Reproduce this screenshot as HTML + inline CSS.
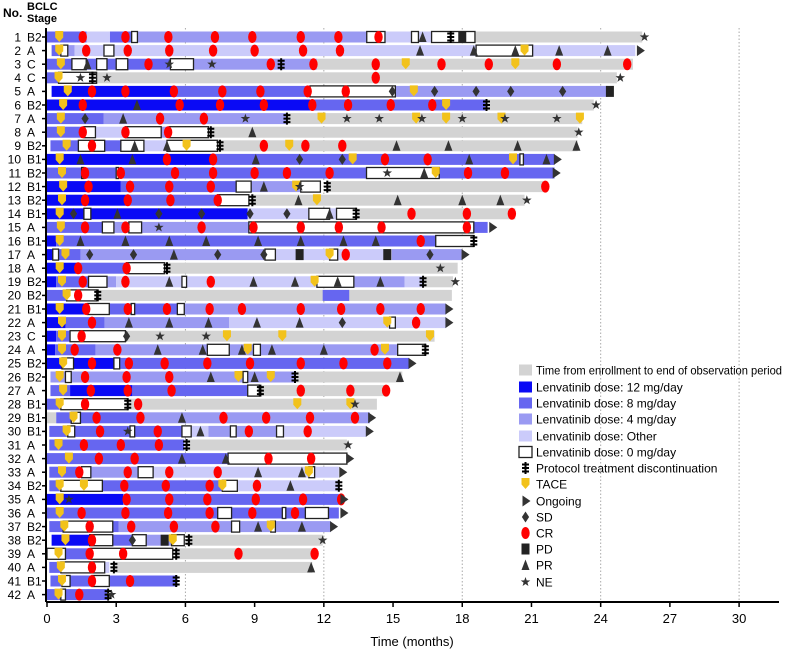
<!DOCTYPE html>
<html><head><meta charset="utf-8">
<style>
html,body{margin:0;padding:0;background:#fff;}
svg{display:block;font-family:"Liberation Sans",Arial,sans-serif;}
</style></head>
<body>
<svg id="chart" width="786" height="651" viewBox="0 0 786 651" xmlns="http://www.w3.org/2000/svg">
<text x="3" y="17" font-size="12" font-weight="bold">No.</text>
<text x="27" y="10" font-size="11" font-weight="bold">BCLC</text>
<text x="27" y="22" font-size="11" font-weight="bold">Stage</text>
<text x="412" y="646" font-size="13" text-anchor="middle">Time (months)</text>
</svg>
<script>
const stages=["B2","A","C","C","A","B2","A","A","B2","B1","B2","B1","B2","B1","A","B1","A","A","B2","B2","B1","A","C","A","B2","B2","A","B1","B1","B1","A","A","A","B2","A","A","B2","B2","A","A","B1","A"];
const xTicks=[0,3,6,9,12,15,18,21,24,27,30];
const gridMonths=[6,12,18,24,30];
const segs=[
[[0,1.72,'b'],[1.72,2.73,'d'],[2.73,3.67,'b'],[3.67,14.65,'c'],[14.65,16.67,'d'],[18.55,25.8,'g'],[3.67,3.92,'w'],[13.86,14.65,'w'],[15.8,16.1,'w'],[16.67,18.55,'w']],
[[0.2,0.6,'b'],[0.9,1.2,'c'],[1.2,25.5,'d'],[0.6,0.9,'w'],[2.47,2.9,'w'],[18.6,21.05,'w']],
[[0,5.35,'b'],[5.35,11.7,'c'],[11.7,25.4,'g'],[1.08,1.7,'w'],[2.15,2.6,'w'],[3.0,3.5,'w'],[5.35,6.35,'w']],
[[0,0.5,'b'],[2.15,24.7,'g'],[0.5,2.15,'w']],
[[0.2,5.5,'a'],[5.5,11.4,'b'],[15.1,24.3,'c'],[11.4,15.1,'w']],
[[0,11.4,'a'],[11.4,19.0,'b'],[19.0,23.7,'g']],
[[0,2.45,'b'],[2.45,10.4,'c'],[10.4,23.2,'g']],
[[0,1.6,'b'],[2.1,3.4,'d'],[4.95,5.3,'c'],[7.1,23.0,'g'],[1.6,2.1,'w'],[3.4,4.95,'w'],[5.3,7.0,'w']],
[[0.15,1.36,'b'],[2.5,3.2,'b'],[4.2,5.2,'d'],[7.5,23.0,'g'],[1.36,2.5,'w'],[3.2,4.2,'w'],[5.2,7.4,'w']],
[[0,7.2,'a'],[7.2,22.0,'b'],[20.5,20.65,'w']],
[[0,22.0,'b'],[1.5,1.6,'w'],[3.0,3.1,'w'],[13.85,17.0,'w']],
[[0,3.2,'a'],[3.2,8.2,'b'],[8.85,11.0,'c'],[12.2,21.5,'g'],[8.2,8.85,'w'],[11.0,11.85,'w']],
[[0,3.5,'a'],[3.5,7.4,'b'],[8.9,20.7,'g'],[7.4,8.75,'w']],
[[0,8.7,'a'],[8.7,13.4,'d'],[13.4,20.3,'g'],[1.6,1.9,'w'],[11.35,12.25,'w'],[12.55,13.4,'w']],
[[0,2.9,'b'],[2.9,8.75,'c'],[18.5,19.1,'b'],[2.4,2.9,'w'],[3.55,4.1,'w'],[8.75,18.5,'w']],
[[0,0.4,'a'],[0.4,16.85,'b'],[16.85,18.5,'w']],
[[0,0.25,'a'],[0.5,1.45,'b'],[1.45,9.45,'c'],[9.9,14.95,'d'],[14.95,17.97,'c'],[0.25,0.5,'w'],[9.45,9.9,'w'],[12.25,12.6,'w']],
[[0,1.3,'a'],[1.3,3.45,'b'],[5.2,17.8,'g'],[3.45,5.1,'w']],
[[0,0.4,'a'],[0.4,1.8,'b'],[2.6,3.0,'c'],[3.0,13.3,'d'],[13.3,15.5,'c'],[15.5,16.3,'d'],[16.3,17.6,'g'],[1.8,2.6,'w'],[5.85,6.05,'w'],[11.7,13.3,'w']],
[[0,0.85,'b'],[2.2,17.55,'g'],[11.95,13.1,'b'],[0.85,2.15,'w']],
[[0,1.75,'a'],[2.7,5.65,'b'],[5.95,17.3,'c'],[1.75,2.7,'w'],[3.65,3.8,'w'],[5.65,5.95,'w']],
[[0,0.8,'a'],[0.8,2.5,'b'],[2.5,7.9,'c'],[7.9,17.3,'d'],[14.85,15.1,'w']],
[[0,0.4,'a'],[0.4,1.0,'b'],[3.4,16.8,'g'],[1.0,3.4,'w']],
[[0,0.35,'a'],[0.35,2.1,'b'],[2.1,16.4,'c'],[6.95,7.9,'w'],[8.95,9.25,'w'],[15.2,16.4,'w']],
[[0,2.9,'a'],[3.15,15.7,'b'],[0.65,1.15,'w'],[2.9,3.15,'w']],
[[0.15,10.8,'c'],[10.8,15.4,'g'],[0.8,1.05,'w'],[8.5,8.7,'w']],
[[0.15,1.0,'b'],[1.0,3.7,'a'],[3.7,8.7,'b'],[9.25,14.8,'g'],[8.7,9.2,'w']],
[[0,0.6,'b'],[3.5,14.3,'g'],[0.6,3.5,'w']],
[[0,0.4,'g'],[0.4,4.0,'b'],[4.0,14.0,'c'],[1.05,1.45,'w']],
[[0.1,5.85,'b'],[6.25,7.0,'d'],[7.0,10.25,'c'],[10.25,13.85,'d'],[0.9,1.2,'w'],[3.6,3.8,'w'],[5.85,6.25,'w'],[7.95,8.2,'w'],[9.95,10.25,'w']],
[[0.1,5.95,'b'],[6.05,13.0,'g']],
[[0,7.85,'b'],[7.85,13.0,'w']],
[[0.1,1.5,'b'],[1.9,3.95,'c'],[4.6,12.65,'d'],[1.5,1.9,'w'],[3.95,4.6,'w'],[11.35,11.6,'w']],
[[0.1,0.6,'b'],[2.4,7.6,'b'],[8.25,12.65,'d'],[0.6,2.4,'w'],[7.6,8.25,'w']],
[[0,3.3,'a'],[3.3,12.65,'b']],
[[0,12.65,'b'],[7.4,8.0,'w'],[10.2,10.35,'w'],[11.2,12.2,'w']],
[[0.1,0.7,'b'],[2.85,3.1,'b'],[3.1,12.3,'c'],[0.7,2.85,'w'],[8.0,8.35,'w'],[9.7,9.9,'w']],
[[0.2,1.85,'a'],[2.85,3.7,'b'],[4.3,5.4,'c'],[6.1,11.95,'g'],[1.85,2.85,'w'],[3.7,4.3,'w'],[5.4,5.95,'w']],
[[0.8,1.9,'b'],[5.6,11.6,'g'],[0,0.8,'w'],[1.9,5.45,'w']],
[[0.1,0.6,'b'],[2.5,2.7,'d'],[2.9,11.5,'g'],[0.6,2.5,'w']],
[[0.15,5.65,'b'],[0.65,1.0,'w'],[1.95,2.7,'w']],
[[0,2.6,'b'],[0.6,0.8,'w']]
];
const events=[
['T',.53,'C',1.55,'C',3.4,'C',5.26,'C',7.28,'C',8.9,'C',11.0,'C',12.63,'C',14.37,'P',16.28,'X',17.5,'D',18.0,'N',25.9],
['T',.53,'C',1.7,'C',3.5,'C',5.3,'C',7.2,'C',9.0,'C',11.1,'C',12.7,'P',16.17,'P',18.5,'P',20.3,'T',20.7,'P',22.2,'P',24.3,'O',25.7],
['T',.6,'P',1.75,'C',4.4,'N',5.3,'N',7.15,'C',9.7,'X',10.15,'C',11.55,'C',14.25,'T',15.55,'C',17.1,'C',19.15,'T',20.3,'C',22.1,'C',25.15],
['T',.5,'N',1.45,'X',1.97,'N',2.6,'C',14.25,'N',24.85],
['T',.9,'C',1.95,'C',3.4,'C',5.5,'C',7.6,'C',9.25,'C',11.3,'C',12.95,'S',14.97,'T',15.9,'S',16.8,'S',18.6,'S',20.1,'S',22.35,'D',24.4],
['T',.7,'C',1.55,'P',3.9,'C',5.75,'C',7.5,'C',9.4,'C',11.5,'C',13.05,'C',14.9,'C',16.7,'T',17.3,'X',19.05,'N',23.8],
['T',.6,'S',1.65,'P',3.3,'C',4.9,'C',6.8,'N',8.6,'X',10.4,'T',11.9,'N',13.0,'N',14.4,'T',16.0,'N',16.25,'T',17.3,'N',18.0,'T',19.7,'N',19.85,'N',22.1,'T',23.1],
['T',.6,'C',1.55,'C',3.4,'C',5.25,'X',7.1,'P',8.9,'N',23.05],
['T',.85,'C',1.95,'P',3.8,'P',5.2,'T',6.05,'X',7.5,'C',9.4,'T',10.5,'C',11.2,'C',12.8,'P',15.15,'P',17.4,'P',20.4,'P',22.95],
['T',.55,'P',1.45,'P',3.7,'C',5.2,'C',7.2,'P',9.05,'S',10.95,'S',12.8,'T',13.25,'C',14.65,'C',16.5,'P',18.3,'T',20.2,'P',21.65,'O',22.1],
['T',.65,'C',1.65,'C',3.2,'C',5.55,'C',7.2,'C',9.0,'C',10.4,'C',12.25,'N',14.75,'P',16.35,'T',16.85,'C',18.25,'C',19.85,'O',22.05],
['T',.7,'C',1.8,'C',3.6,'C',5.3,'C',7.1,'P',9.4,'T',10.8,'N',10.95,'X',12.15,'C',21.6],
['T',.65,'C',1.65,'C',3.5,'C',5.35,'C',7.4,'X',8.9,'P',10.9,'T',11.7,'P',15.2,'P',18.0,'P',19.65,'N',20.8],
['T',.55,'S',1.15,'P',3.05,'S',4.85,'S',6.7,'S',8.8,'S',10.4,'P',12.25,'X',13.4,'C',15.8,'C',18.2,'C',20.15],
['T',.6,'C',1.65,'C',3.4,'N',4.85,'C',6.7,'C',8.95,'C',11.0,'C',12.65,'C',14.5,'C',18.2,'O',19.3],
['T',.55,'P',1.45,'P',3.4,'P',5.3,'P',6.9,'P',9.15,'P',11.0,'P',12.85,'P',14.25,'C',16.2,'X',18.5],
['T',.8,'S',1.85,'S',3.75,'P',5.5,'S',7.4,'S',9.4,'D',10.95,'T',12.25,'C',12.95,'D',14.75,'S',16.6,'O',18.1],
['T',.55,'C',1.35,'C',3.45,'X',5.2,'N',17.05],
['T',.65,'C',1.55,'C',3.4,'P',5.3,'C',7.1,'P',8.95,'P',10.75,'T',11.6,'P',12.6,'P',14.45,'X',16.3,'N',17.7],
['T',.85,'C',1.35,'X',2.2],
['T',.55,'C',1.7,'C',3.5,'C',5.2,'C',7.05,'C',8.45,'C',11.0,'C',12.75,'C',14.45,'C',16.2,'O',17.4],
['T',.65,'C',1.95,'P',3.55,'P',5.3,'P',7.0,'P',9.1,'P',10.95,'S',12.8,'T',14.75,'C',16.0,'O',17.4],
['T',.65,'C',1.5,'S',3.45,'N',4.9,'N',6.9,'T',7.8,'T',10.2,'T',16.6],
['T',.65,'C',1.2,'C',3.05,'P',4.8,'P',6.75,'P',8.45,'T',8.7,'P',9.75,'P',12.0,'C',14.2,'T',14.65,'X',16.4],
['T',.7,'C',1.95,'C',3.55,'C',5.1,'C',6.95,'C',8.8,'C',11.0,'C',12.85,'C',14.75,'O',15.8],
['T',.55,'C',1.65,'C',3.45,'C',5.3,'P',7.1,'T',8.3,'P',9.0,'T',9.7,'X',10.75,'P',15.3],
['T',.7,'C',1.9,'C',3.5,'C',5.4,'X',9.25,'C',11.0,'C',13.15,'C',14.7],
['T',.55,'C',1.65,'X',3.5,'C',3.95,'T',10.85,'T',13.15,'N',13.35],
['T',1.15,'C',2.15,'C',4.05,'P',5.85,'C',7.65,'C',9.5,'C',11.4,'C',13.35,'O',14.05],
['T',.85,'C',2.3,'N',3.5,'C',4.8,'P',6.65,'C',8.75,'C',11.3,'O',13.95],
['T',.5,'C',1.6,'C',3.2,'C',4.85,'X',6.05,'N',13.05],
['T',.95,'C',2.25,'C',3.8,'P',5.85,'P',7.75,'C',9.6,'C',11.45,'O',13.1],
['T',.65,'C',1.4,'C',3.5,'C',5.3,'C',7.4,'P',9.15,'P',11.05,'T',11.35,'O',12.8],
['T',.55,'T',1.6,'C',3.35,'C',5.15,'C',7.05,'T',7.6,'C',9.1,'P',10.55,'X',12.65],
['T',.55,'N',.95,'C',3.45,'C',5.3,'C',6.95,'C',9.05,'C',11.1,'C',12.75,'O',12.85],
['T',.55,'C',1.5,'C',3.4,'C',5.25,'C',7.05,'C',8.9,'C',10.75,'O',12.85],
['T',.75,'C',1.85,'C',3.65,'C',5.5,'C',7.3,'P',9.15,'T',9.7,'P',11.05,'O',12.4],
['T',.8,'C',1.95,'S',3.7,'D',5.1,'T',5.45,'X',6.15,'N',11.95],
['T',.5,'C',1.85,'C',3.3,'X',5.6,'C',8.3,'C',11.6],
['T',.6,'C',1.95,'X',2.9,'P',11.45],
['T',.65,'C',1.95,'C',3.6,'X',5.6],
['T',.5,'C',1.4,'X',2.65,'N',2.8]
];
const legendLabels=["Time from enrollment to end of observation period","Lenvatinib dose: 12 mg/day","Lenvatinib dose: 8 mg/day","Lenvatinib dose: 4 mg/day","Lenvatinib dose: Other","Lenvatinib dose: 0 mg/day","Protocol treatment discontinuation","TACE","Ongoing","SD","CR","PD","PR","NE"];
const legendKeys=['g','a','b','c','d','w','X','T','O','S','C','D','P','N'];

const NS="http://www.w3.org/2000/svg";
const svg=document.getElementById('chart');
const X0=47,PX=23.07,Y0=37,DY=13.6,AXY=602;
const xs=m=>X0+m*PX;
const ys=i=>Y0+i*DY;
const fills={g:'#d3d3d3',a:'#0a0af5',b:'#6666f0',c:'#9a9af2',d:'#cbcbfa',w:'#ffffff'};
function mk(tag,attrs,parent){const e=document.createElementNS(NS,tag);for(const k in attrs)e.setAttribute(k,attrs[k]);(parent||svg).appendChild(e);return e;}

const gG=mk('g',{});


gridMonths.forEach(m=>{const l=mk('line',{x1:xs(m),x2:xs(m),y1:28,y2:AXY,stroke:'#aaa','stroke-width':1,'stroke-dasharray':'1.5,2'},gG);

});

function marker(type,x,y,parent){
  let e;
  if(type==='C')e=mk('ellipse',{cx:x,cy:y,rx:4.2,ry:6,fill:'#f00'},parent);
  else if(type==='T')e=mk('path',{d:`M${x-4},${y-6}h8v6.5l-4,4.5l-4,-4.5z`,fill:'#f2c21b'},parent);
  else if(type==='P')e=mk('path',{d:`M${x},${y-5.5}L${x+4},${y+5}L${x-4},${y+5}z`,fill:'#333'},parent);
  else if(type==='S')e=mk('path',{d:`M${x},${y-5.5}L${x+3.6},${y}L${x},${y+5.5}L${x-3.6},${y}z`,fill:'#333'},parent);
  else if(type==='D')e=mk('rect',{x:x-4,y:y-5.5,width:8,height:11,fill:'#222'},parent);
  else if(type==='O')e=mk('path',{d:`M${x-3},${y-5.5}L${x+5},${y}L${x-3},${y+5.5}z`,fill:'#333'},parent);
  else if(type==='N'){let p='';for(let k=0;k<10;k++){const r=k%2?2:5,a=-Math.PI/2+k*Math.PI/5;p+=(k?'L':'M')+(x+r*Math.cos(a)).toFixed(2)+','+(y+r*Math.sin(a)).toFixed(2);}e=mk('path',{d:p+'z',fill:'#333'},parent);}
  else if(type==='X')e=mk('path',{d:`M${x},${y-6}V${y+6}M${x-3.5},${y-3.5}H${x+3.5}M${x-3.5},${y}H${x+3.5}M${x-3.5},${y+3.5}H${x+3.5}`,stroke:'#000','stroke-width':2,fill:'none'},parent);
  return e;
}
const names={C:'cr-marker',T:'tace-marker',P:'pr-marker',S:'sd-marker',D:'pd-marker',O:'ongoing-marker',N:'ne-marker',X:'discontinuation-marker'};

stages.forEach((st,i)=>{
  const y=ys(i);
  const t1=mk('text',{x:21,y:y+4.3,'font-size':12,'text-anchor':'end'});t1.textContent=String(i+1);
  
  
  const t2=mk('text',{x:27,y:y+4.3,'font-size':12});t2.textContent=st;
  
  
  const tk=mk('line',{x1:42,x2:46,y1:y,y2:y,stroke:'#000','stroke-width':1.5});
  
  
  const g=mk('g',{});
  
  
  const sorted=segs[i].filter(s=>s[2]!=='w').concat(segs[i].filter(s=>s[2]==='w'));
  sorted.forEach(s=>{
    const a={x:xs(s[0]),y:y-5.5,width:Math.max(0.5,xs(s[1])-xs(s[0])),height:11,fill:fills[s[2]]};
    if(s[2]==='w'){a.stroke='#222';a['stroke-width']=1.3;}
    const r=mk('rect',a,g);
    
    
  });
  const ev=events[i];
  for(let k=0;k<ev.length;k+=2){
    const m=marker(ev[k],xs(ev[k+1]),y,g);
    
    
  }
});

const ax=mk('line',{x1:46,x2:779,y1:AXY,y2:AXY,stroke:'#000','stroke-width':2});


const ay=mk('line',{x1:46,x2:46,y1:28,y2:AXY,stroke:'#000','stroke-width':2});


xTicks.forEach(m=>{
  const l=mk('line',{x1:xs(m),x2:xs(m),y1:AXY,y2:AXY+5,stroke:'#000','stroke-width':1.5});
  
  
  const t=mk('text',{x:xs(m),y:AXY+21,'font-size':13,'text-anchor':'middle'});t.textContent=String(m);
  
  
});

const lg=mk('g',{});


const ly=[370,387,403,419,436,452,468,484,501,517,533,549,565,582];
legendLabels.forEach((lab,k)=>{
  const key=legendKeys[k],y=ly[k];
  let sw;
  if(fills[key]){sw=mk('rect',{x:519,y:y-5.5,width:13,height:11,fill:fills[key]},lg);if(key==='w'){sw.setAttribute('stroke','#222');sw.setAttribute('stroke-width',1.3);}}
  else sw=marker(key,525.5,y,lg);
  
  
  const t=mk('text',{x:536,y:y+4.5,'font-size':12},lg);t.textContent=lab;
  if(k===0){t.setAttribute('textLength','246');t.setAttribute('lengthAdjust','spacingAndGlyphs');}
  
  
});
</script>
</body></html>
